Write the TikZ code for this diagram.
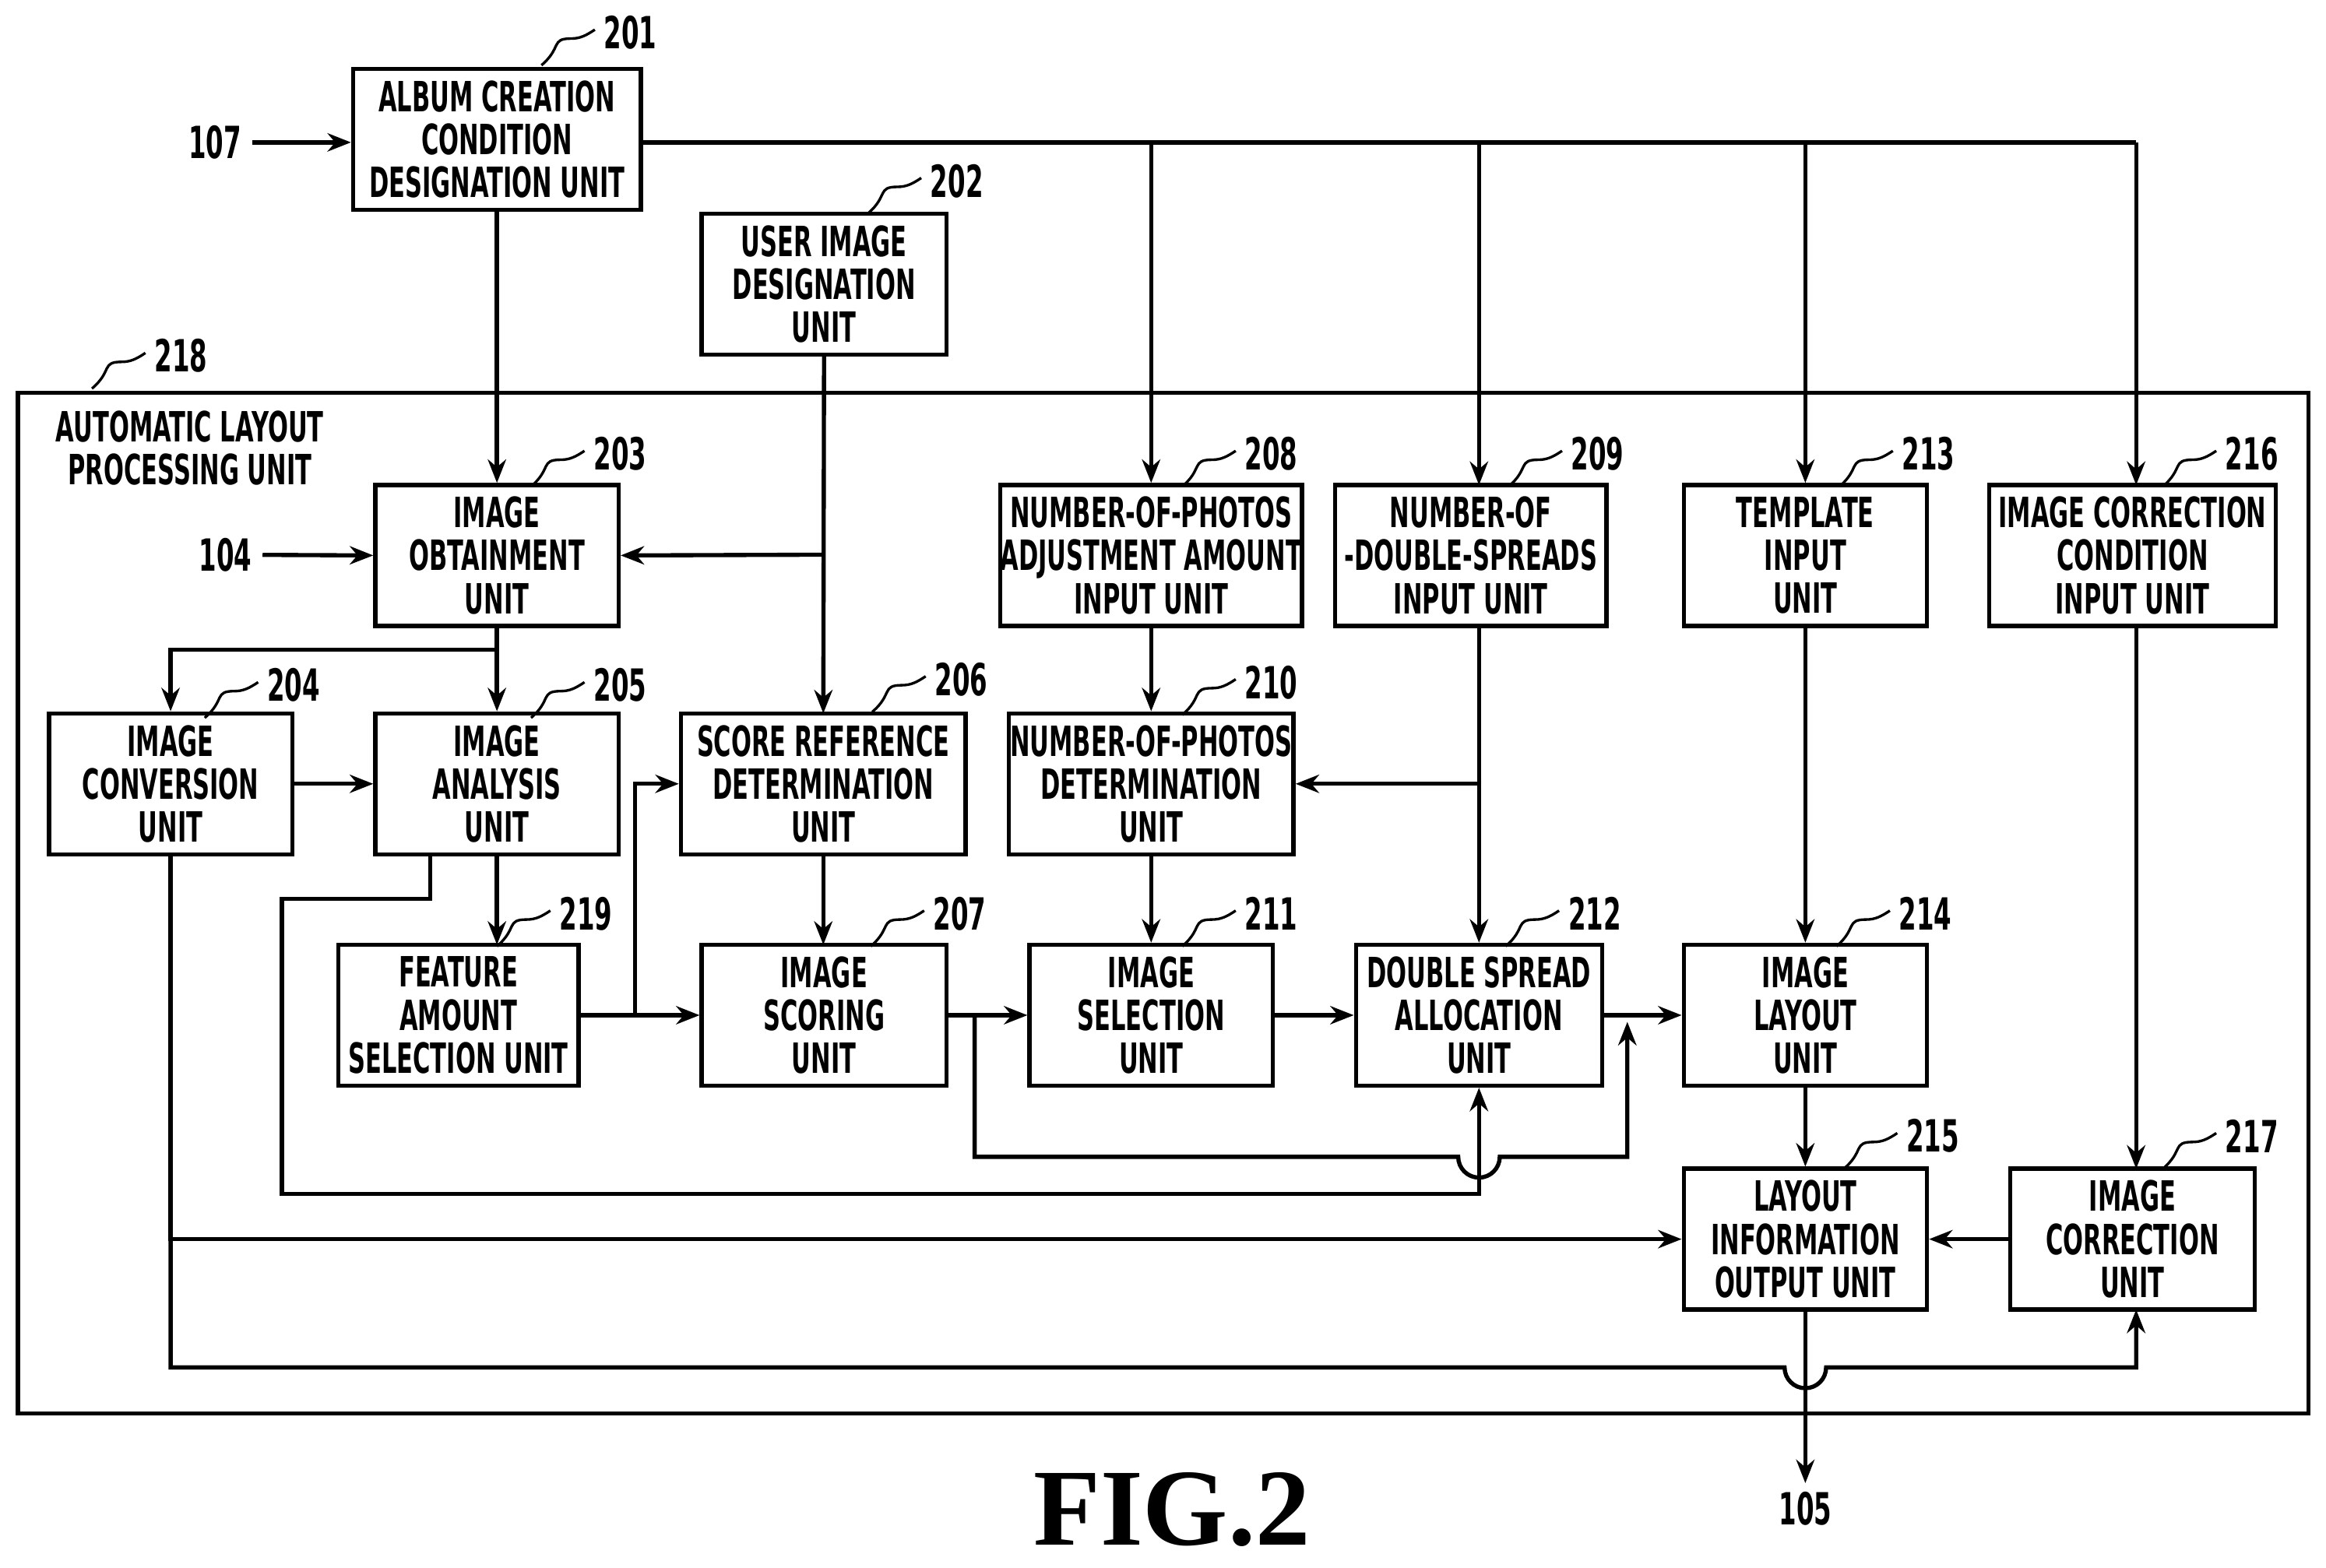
\documentclass[tikz,border=0pt]{standalone}
\usepackage{fontspec}
\setmainfont{DejaVu Sans}[FakeStretch=0.57]
\newfontfamily\figfont{Liberation Serif}
\usetikzlibrary{arrows.meta}
\begin{document}
\begin{tikzpicture}[x=0.02cm,y=-0.02cm,line width=1.6pt,
  >={Stealth[length=9pt,width=7pt]},
  box/.style={draw,align=center,minimum height=1.9cm,inner sep=0pt,font=\bfseries\fontsize{16}{16.5}\selectfont},
  num/.style={font=\bfseries\fontsize{17}{17}\selectfont},
  sq/.style={line width=1pt}]
\useasboundingbox (0,0) rectangle (1568,1057);
\newcommand\lbl[3]{\node[num] at (#1,#2) {#3};
  \draw[sq] (#1-60,#2+22) .. controls (#1-46,#2+10) and (#1-54,#2+4) .. (#1-40,#2+4) .. controls (#1-34,#2+4) and (#1-30,#2+2) .. (#1-24,#2-2);}
% outer
\draw (12,265) rectangle (1556,953);
\node[align=center,font=\bfseries\fontsize{16}{16.5}\selectfont] (t218) at (128,302) {AUTOMATIC LAYOUT\\PROCESSING UNIT};
% boxes
\node[box,minimum width=3.88cm] (b201) at (335,94) {ALBUM CREATION\\CONDITION\\DESIGNATION UNIT};
\node[box,minimum width=3.3cm] (b202) at (555.5,191.5) {USER IMAGE\\DESIGNATION\\UNIT};
\node[box,minimum width=3.28cm] (b203) at (335,374.5) {IMAGE\\OBTAINMENT\\UNIT};
\node[box,minimum width=3.84cm] (b208) at (776,374.5) {NUMBER-OF-PHOTOS\\ADJUSTMENT AMOUNT\\INPUT UNIT};
\node[box,minimum width=3.66cm] (b209) at (991.5,374.5) {NUMBER-OF\\-DOUBLE-SPREADS\\INPUT UNIT};
\node[box,minimum width=3.28cm] (b213) at (1217,374.5) {TEMPLATE\\INPUT\\UNIT};
\node[box,minimum width=3.86cm] (b216) at (1437.5,374.5) {IMAGE CORRECTION\\CONDITION\\INPUT UNIT};
\node[box,minimum width=3.28cm] (b204) at (115,528.5) {IMAGE\\CONVERSION\\UNIT};
\node[box,minimum width=3.28cm] (b205) at (335,528.5) {IMAGE\\ANALYSIS\\UNIT};
\node[box,minimum width=3.84cm] (b206) at (555,528.5) {SCORE REFERENCE\\DETERMINATION\\UNIT};
\node[box,minimum width=3.84cm] (b210) at (776,528.5) {NUMBER-OF-PHOTOS\\DETERMINATION\\UNIT};
\node[box,minimum width=3.24cm] (b219) at (309,684.5) {FEATURE\\AMOUNT\\SELECTION UNIT};
\node[box,minimum width=3.3cm] (b207) at (555.5,684.5) {IMAGE\\SCORING\\UNIT};
\node[box,minimum width=3.28cm] (b211) at (776,684.5) {IMAGE\\SELECTION\\UNIT};
\node[box,minimum width=3.32cm] (b212) at (997,684.5) {DOUBLE SPREAD\\ALLOCATION\\UNIT};
\node[box,minimum width=3.28cm] (b214) at (1217,684.5) {IMAGE\\LAYOUT\\UNIT};
\node[box,minimum width=3.28cm] (b215) at (1217,835.5) {LAYOUT\\INFORMATION\\OUTPUT UNIT};
\node[box,minimum width=3.3cm] (b217) at (1437.5,835.5) {IMAGE\\CORRECTION\\UNIT};
% numbers
\lbl{425}{22}{201}\lbl{645}{122}{202}\lbl{122}{240}{218}\lbl{418}{306}{203}
\lbl{857}{306}{208}\lbl{1077}{306}{209}\lbl{1300}{306}{213}\lbl{1518}{306}{216}
\lbl{198}{462}{204}\lbl{418}{462}{205}\lbl{648}{458}{206}\lbl{857}{460}{210}
\lbl{395}{616}{219}\lbl{647}{616}{207}\lbl{857}{616}{211}\lbl{1075}{616}{212}
\lbl{1298}{616}{214}\lbl{1303}{766}{215}\lbl{1518}{766}{217}
\node[num] (n107) at (145,96) {107};
\node[num] (n104) at (152,374) {104};
\node[num] (n105) at (1217,1017) {105};
\node[font=\figfont\bfseries\fontsize{42}{42}\selectfont] (fig) at (790,1018) {FIG.2};
% connectors
\draw[->] (n107) -- (b201.west |- n107);
\draw[->] (b201.south) -- (b203.north);
\draw (b201.east |- 0,96) -- (1440,96);
\draw[->] (776,96) -- (b208.north);
\draw[->] (997,96) -- (997,327);
\draw[->] (1217,96) -- (b213.north);
\draw[->] (1440,96) -- (1440,327);
\draw[->] (b202.south) -- (555,481);
\draw[->] (555,374) -- (b203.east);
\draw[->] (n104) -- (b203.west);
\draw[->] (b203.south) -- (b205.north);
\draw[->] (335,438) -- (115,438) -- (b204.north);
\draw[->] (b204.east) -- (b205.west);
\draw[->] (b205.south) -- (335,637);
\draw[->] (b219.east) -- (b207.west);
\draw[->] (428,684.5) -- (428,528.5) -- (b206.west);
\draw[->] (b206.south) -- (555,637);
\draw[->] (b208.south) -- (b210.north);
\draw[->] (997,422) -- (b212.north);
\draw[->] (997,528.5) -- (b210.east);
\draw[->] (b210.south) -- (b211.north);
\draw[->] (b207.east) -- (b211.west);
\draw[->] (b211.east) -- (b212.west);
\draw[->] (b212.east) -- (b214.west);
\draw[->] (b213.south) -- (b214.north);
\draw[->] (b214.south) -- (b215.north);
\draw[->] (1440,422) -- (1440,788);
\draw[->] (b217.west) -- (b215.east);
\draw[->] (290,576) -- (290,606) -- (190,606) -- (190,805) -- (997,805) -- (b212.south);
\draw[->] (657,684.5) -- (657,780) -- (983,780) arc (180:0:14) -- (1097,780) -- (1097,689);
\draw[->] (115,576) -- (115,835.5) -- (b215.west);
\draw[->] (115,835.5) -- (115,922) -- (1203,922) arc (180:0:14) -- (1440,922) -- (1440,883);
\draw[->] (b215.south) -- (1217,1000);
\end{tikzpicture}
\end{document}
